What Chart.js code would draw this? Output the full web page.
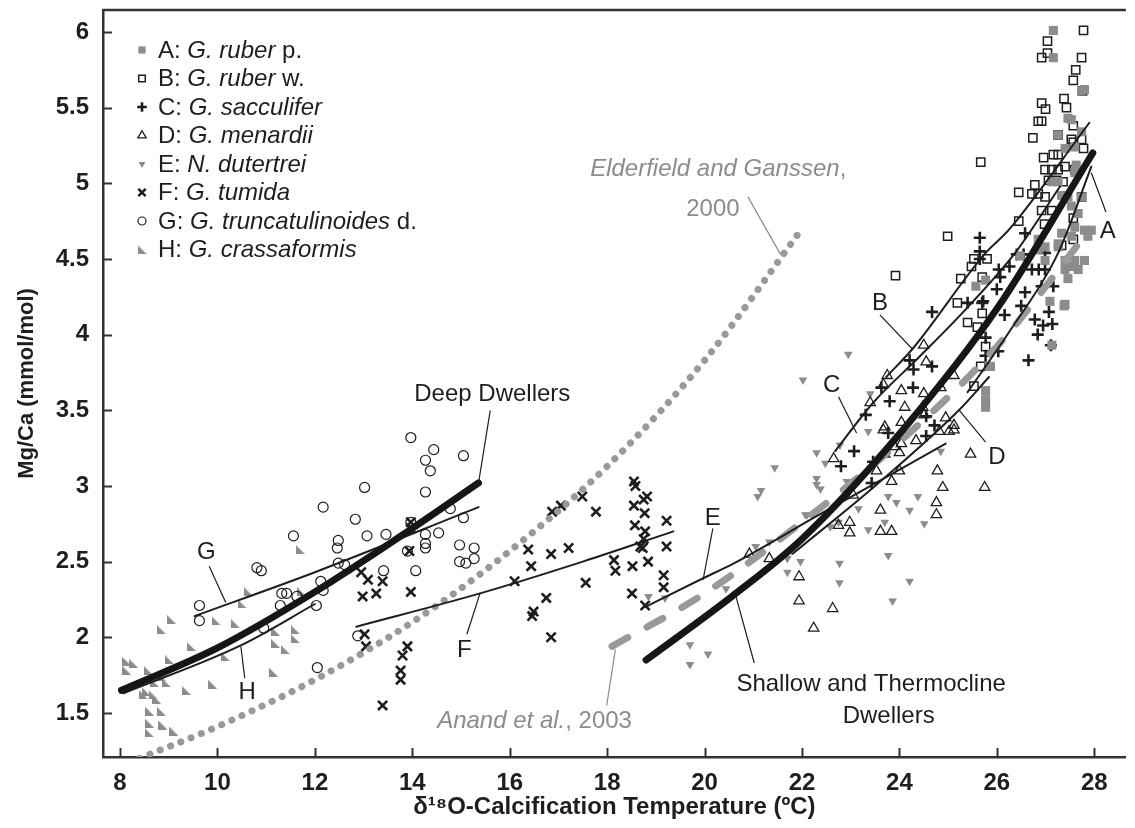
<!DOCTYPE html>
<html lang="en">
<head>
<meta charset="UTF-8">
<title>Mg/Ca vs calcification temperature</title>
<script src="https://cdn.jsdelivr.net/npm/chart.js"></script>
<style>
  html, body { margin: 0; padding: 0; background: #fff; }
  #wrap { width: 1135px; height: 828px; }
</style>
</head>
<body>
<div id="wrap"><canvas id="mgca" width="1135" height="828"></canvas></div>
<script>
// ---- data: [temperature degC, Mg/Ca mmol/mol] ----
const ruberP = [[27.16,6.01],[27.16,5.83],[27.80,5.62],[27.74,5.61],[27.46,5.43],[27.53,5.42],[27.74,5.34],[27.26,5.32],[27.60,5.24],[27.40,5.23],[27.63,5.12],[27.60,5.07],[27.13,5.01],[27.26,5.01],[27.33,4.92],[27.46,4.91],[27.74,4.91],[27.53,4.85],[27.67,4.80],[27.60,4.71],[27.80,4.69],[27.94,4.69],[27.33,4.67],[27.26,4.58],[27.40,4.49],[27.60,4.49],[27.80,4.49],[27.53,4.45],[27.40,4.43],[27.67,4.43],[27.26,4.60],[27.53,4.65],[27.87,4.65],[27.46,4.37],[27.09,4.22],[27.38,4.19],[27.13,3.93],[25.77,3.63],[25.77,3.57],[25.77,3.52],[25.87,3.79],[25.77,4.36],[25.57,4.32],[26.48,4.52],[26.85,4.63],[26.99,4.58],[26.85,4.56],[26.99,4.49],[27.40,4.20],[25.84,3.79]];
const ruberW = [[27.78,6.01],[27.04,5.94],[27.04,5.86],[26.92,5.83],[27.74,5.83],[27.62,5.75],[27.57,5.68],[27.76,5.61],[26.92,5.53],[27.00,5.49],[27.38,5.56],[27.43,5.50],[26.85,5.41],[26.92,5.41],[26.74,5.30],[27.57,5.38],[27.26,5.32],[27.53,5.29],[27.74,5.29],[27.57,5.27],[27.78,5.23],[25.67,5.14],[26.96,5.17],[27.16,5.19],[27.26,5.19],[27.40,5.11],[26.99,5.09],[27.13,5.09],[27.26,5.09],[27.60,5.09],[27.06,5.02],[27.23,5.02],[27.36,5.01],[26.78,4.99],[26.85,4.93],[26.99,4.91],[26.45,4.94],[26.72,4.93],[27.74,4.91],[26.92,4.82],[27.13,4.82],[26.98,4.73],[27.57,4.77],[26.45,4.75],[24.99,4.65],[27.57,4.63],[27.33,4.59],[25.53,4.50],[25.48,4.45],[25.80,4.50],[23.92,4.39],[25.26,4.37],[25.70,4.38],[25.19,4.21],[25.70,4.14],[25.40,4.08],[25.60,4.05],[25.77,3.92],[25.67,3.79],[25.53,3.66]];
const sacculifer = [[24.67,4.15],[25.40,4.21],[25.70,4.21],[26.50,4.19],[26.78,4.10],[26.95,4.06],[26.84,4.00],[27.14,4.07],[27.07,4.15],[27.11,3.93],[26.65,3.83],[26.03,3.89],[25.77,3.98],[25.77,3.86],[26.16,4.13],[24.21,3.83],[24.29,3.77],[24.67,3.79],[23.63,3.65],[24.28,3.65],[23.80,3.56],[23.31,3.47],[24.55,3.46],[24.72,3.40],[23.77,3.35],[24.55,3.33],[23.07,3.23],[22.80,3.13],[23.46,3.16],[23.43,3.02],[25.65,4.64],[25.65,4.55],[25.65,4.50],[26.41,4.53],[26.55,4.53],[26.58,4.67],[26.99,4.54],[26.04,4.43],[26.26,4.45],[26.07,4.38],[26.00,4.30],[26.72,4.43],[26.86,4.43],[26.99,4.43],[26.58,4.28],[26.92,4.32],[27.16,4.32],[25.72,4.22]];
const menardii = [[24.50,3.93],[24.55,3.82],[23.75,3.73],[23.67,3.67],[24.04,3.63],[24.50,3.61],[23.40,3.55],[24.11,3.52],[24.85,3.65],[25.12,3.73],[23.70,3.39],[23.67,3.37],[24.04,3.42],[24.48,3.52],[24.51,3.47],[24.95,3.45],[24.82,3.36],[25.02,3.36],[25.12,3.40],[25.12,3.37],[24.34,3.30],[24.04,3.28],[23.90,3.26],[24.00,3.22],[23.70,3.21],[22.65,3.18],[25.46,3.21],[23.53,3.10],[24.00,3.10],[23.84,3.03],[24.78,3.10],[24.89,2.99],[25.75,2.99],[23.05,2.94],[24.76,2.89],[24.76,2.81],[23.61,2.84],[22.98,2.76],[22.98,2.69],[22.75,2.74],[23.61,2.70],[23.84,2.70],[20.92,2.55],[21.33,2.52],[21.94,2.40],[21.94,2.24],[22.63,2.19],[22.24,2.06]];
const dutertrei = [[22.95,3.87],[22.02,3.70],[23.40,3.61],[23.36,3.36],[22.78,3.27],[22.30,3.22],[21.44,3.12],[22.48,3.15],[22.30,3.05],[22.30,3.01],[22.38,2.98],[21.16,2.97],[21.09,2.93],[22.92,3.03],[24.85,3.23],[23.77,2.93],[23.94,2.89],[24.38,2.93],[24.21,2.84],[23.16,2.85],[22.11,2.81],[23.70,2.76],[24.51,2.75],[22.75,2.76],[22.58,2.73],[23.36,2.71],[21.05,2.60],[21.33,2.63],[21.70,2.52],[21.97,2.50],[21.70,2.43],[22.77,2.49],[22.77,2.36],[23.77,2.54],[24.21,2.37],[23.86,2.24],[22.07,2.81],[20.44,2.32],[18.85,2.27],[19.19,2.26],[19.70,1.95],[20.07,1.89],[19.70,1.82]];
const tumida = [[18.55,3.03],[18.58,3.00],[18.82,2.93],[18.75,2.91],[17.49,2.93],[17.05,2.87],[16.87,2.83],[17.77,2.83],[18.55,2.87],[18.77,2.82],[19.22,2.77],[18.57,2.74],[18.78,2.70],[18.75,2.65],[18.68,2.60],[18.73,2.59],[19.22,2.60],[16.38,2.58],[16.85,2.55],[17.21,2.59],[16.44,2.47],[18.14,2.51],[18.17,2.44],[18.52,2.47],[18.84,2.50],[17.56,2.36],[16.10,2.37],[19.16,2.41],[19.16,2.33],[18.51,2.29],[18.78,2.21],[16.75,2.26],[16.49,2.17],[16.46,2.14],[16.85,2.00],[12.98,2.27],[13.26,2.29],[13.39,2.37],[13.09,2.38],[12.95,2.43],[13.97,2.30],[13.97,2.76],[13.94,2.57],[13.02,2.02],[13.05,1.94],[13.90,1.94],[13.80,1.88],[13.76,1.78],[13.76,1.72],[13.39,1.55],[13.97,2.72]];
const truncatulinoides = [[13.97,3.32],[14.44,3.24],[14.27,3.17],[14.37,3.10],[15.05,3.20],[13.02,2.99],[14.27,2.96],[12.17,2.86],[12.83,2.78],[14.78,2.85],[15.05,2.79],[11.56,2.67],[12.48,2.64],[12.46,2.59],[13.07,2.67],[13.46,2.68],[14.27,2.68],[14.27,2.62],[14.27,2.59],[14.54,2.69],[13.97,2.76],[13.90,2.57],[14.97,2.61],[15.27,2.59],[15.27,2.52],[14.97,2.50],[15.10,2.49],[12.48,2.49],[12.61,2.48],[13.41,2.44],[14.07,2.44],[10.81,2.46],[10.90,2.44],[12.12,2.37],[12.17,2.31],[11.32,2.29],[11.42,2.29],[11.63,2.27],[12.03,2.21],[11.29,2.21],[9.63,2.21],[9.63,2.11],[10.95,2.06],[12.88,2.01],[12.05,1.80]];
const crassaformis = [[11.70,2.58],[10.64,2.30],[10.51,2.22],[11.73,2.30],[9.05,2.12],[8.85,2.05],[9.97,2.11],[10.37,2.09],[9.46,1.94],[9.02,1.85],[10.17,1.87],[11.19,2.04],[11.19,1.96],[11.60,2.05],[11.60,1.99],[11.39,1.92],[8.14,1.84],[8.14,1.78],[8.27,1.83],[8.58,1.78],[8.85,1.74],[8.71,1.70],[8.95,1.70],[8.54,1.64],[8.68,1.62],[9.36,1.65],[9.90,1.69],[11.15,1.77],[8.48,1.62],[8.75,1.59],[8.61,1.51],[8.85,1.51],[8.61,1.43],[8.88,1.42],[8.60,1.37],[9.10,1.38]];

// fitted curves, points
const shallowFit = [[18.8,1.85],[20.6,2.28],[22.0,2.65],[24.07,3.37],[26.0,4.17],[27.97,5.20]];
const deepFit = [[8.03,1.65],[10.0,1.93],[12.0,2.30],[14.0,2.72],[15.36,3.02]];
const elderfield = [[8.4,1.20],[10,1.41],[12,1.72],[14,2.10],[16,2.57],[18,3.13],[20,3.83],[22,4.70]];
const anand = [[18.1,1.94],[20,2.29],[22,2.76],[24,3.29],[26,3.92],[27.8,4.65]];
const fitA = [[25.4,3.62],[26.28,4.03],[27.26,4.54],[27.94,5.11]];
const fitB = [[23.73,3.72],[24.28,3.91],[25.77,4.54],[26.24,4.69],[27.9,5.40]];
const fitC = [[22.68,3.23],[23.46,3.55],[24.4,3.85],[25.4,4.18],[26.4,4.55],[27.3,4.98]];
const fitD = [[21.8,2.55],[23.5,3.00],[25.22,3.50],[25.84,3.72]];
const fitE = [[18.78,2.20],[19.97,2.39],[20.61,2.49],[22.3,2.80],[24.95,3.28]];
const fitF = [[12.85,2.07],[15.39,2.29],[17.5,2.50],[19.36,2.70]];
const fitG = [[9.53,2.14],[12.0,2.43],[15.36,2.86]];
const fitH = [[8.07,1.63],[10.5,1.95],[12.0,2.22]];

const xTickVals = [8, 10, 12, 14, 16, 18, 20, 22, 24, 26, 28];
const yTickVals = [1.5, 2, 2.5, 3, 3.5, 4, 4.5, 5, 5.5, 6];

const FONT = "'Liberation Sans', Arial, Helvetica, sans-serif";
const INK = '#1e1e1e';
const GREY = '#8c8c8c';

function pts(arr) {
    return arr.map(function (p) { return { x: p[0], y: p[1] }; });
}

// little right-angled triangle used for G. crassaformis
function rightTri(size, color) {
    const c = document.createElement('canvas');
    c.width = size; c.height = size;
    const g = c.getContext('2d');
    g.fillStyle = color;
    g.beginPath();
    g.moveTo(0, 0);
    g.lineTo(0, size);
    g.lineTo(size, size);
    g.closePath();
    g.fill();
    return c;
}
const triH = rightTri(9, GREY);

const markers = {
    A: { pointStyle: 'rect', radius: 6.4, rotation: 0, fill: GREY, stroke: GREY, bw: 0 },
    B: { pointStyle: 'rect', radius: 5.8, rotation: 0, fill: 'rgba(0,0,0,0)', stroke: INK, bw: 1.5 },
    C: { pointStyle: 'cross', radius: 6, rotation: 0, fill: INK, stroke: INK, bw: 2.6 },
    D: { pointStyle: 'triangle', radius: 6, rotation: 0, fill: 'rgba(0,0,0,0)', stroke: INK, bw: 1.3 },
    E: { pointStyle: 'triangle', radius: 5, rotation: 180, fill: GREY, stroke: GREY, bw: 0 },
    F: { pointStyle: 'crossRot', radius: 6.5, rotation: 0, fill: INK, stroke: INK, bw: 2.6 },
    G: { pointStyle: 'circle', radius: 5, rotation: 0, fill: 'rgba(0,0,0,0)', stroke: INK, bw: 1.2 },
    H: { pointStyle: triH, radius: 5, rotation: 0, fill: GREY, stroke: GREY, bw: 0 }
};

function scatterSet(key, arr) {
    const m = markers[key];
    return {
        label: key,
        data: pts(arr),
        showLine: false,
        order: 3,
        pointStyle: m.pointStyle,
        pointRadius: m.radius,
        pointRotation: m.rotation,
        pointBackgroundColor: m.fill,
        pointBorderColor: m.stroke,
        pointBorderWidth: m.bw
    };
}

function curveSet(label, arr, color, width, dash, order) {
    return {
        label: label,
        data: pts(arr),
        showLine: true,
        pointRadius: 0,
        borderColor: color,
        borderWidth: width,
        borderDash: dash || [],
        borderCapStyle: 'round',
        borderJoinStyle: 'round',
        cubicInterpolationMode: 'monotone',
        fill: false,
        order: order
    };
}

// draw a string made of normal / italic pieces
function drawRuns(ctx, x, y, parts, size, color, align) {
    const widths = parts.map(function (p) {
        ctx.font = (p[1] ? 'italic ' : '') + size + 'px ' + FONT;
        return ctx.measureText(p[0]).width;
    });
    const total = widths.reduce(function (a, b) { return a + b; }, 0);
    let cx = x;
    if (align === 'right') cx = x - total;
    if (align === 'center') cx = x - total / 2;
    ctx.fillStyle = color;
    ctx.textAlign = 'left';
    parts.forEach(function (p, i) {
        ctx.font = (p[1] ? 'italic ' : '') + size + 'px ' + FONT;
        ctx.fillText(p[0], cx, y);
        cx += widths[i];
    });
}

const legendRows = [
    ['A', [['A: ', 0], ['G. ruber', 1], [' p.', 0]]],
    ['B', [['B: ', 0], ['G. ruber', 1], [' w.', 0]]],
    ['C', [['C: ', 0], ['G. sacculifer', 1]]],
    ['D', [['D: ', 0], ['G. menardii', 1]]],
    ['E', [['E: ', 0], ['N. dutertrei', 1]]],
    ['F', [['F: ', 0], ['G. tumida', 1]]],
    ['G', [['G: ', 0], ['G. truncatulinoides', 1], [' d.', 0]]],
    ['H', [['H: ', 0], ['G. crassaformis', 1]]]
];

// labels: text pieces, anchor (data units), alignment, colour, leader line from/to (data units)
const callouts = [
    { parts: [['Deep Dwellers', 0]], at: [14.04, 3.56], align: 'left', color: INK, lead: [[15.60, 3.50], [15.36, 3.02]] },
    { parts: [['G', 0]], at: [9.77, 2.52], align: 'center', color: INK, lead: [[9.83, 2.47], [10.17, 2.23]] },
    { parts: [['H', 0]], at: [10.61, 1.59], align: 'center', color: INK, lead: [[10.48, 1.94], [10.56, 1.73]] },
    { parts: [['F', 0]], at: [15.07, 1.87], align: 'center', color: INK, lead: [[15.12, 2.02], [15.39, 2.29]] },
    { parts: [['E', 0]], at: [20.17, 2.74], align: 'center', color: INK, lead: [[20.17, 2.72], [19.97, 2.38]] },
    { parts: [['Shallow and Thermocline', 0]], at: [23.42, 1.647], align: 'center', color: INK, lead: [[21.02, 1.83], [20.61, 2.31]] },
    { parts: [['Dwellers', 0]], at: [23.78, 1.432], align: 'center', color: INK, lead: null },
    { parts: [['A', 0]], at: [28.28, 4.64], align: 'center', color: INK, lead: [[28.24, 4.81], [27.94, 5.07]] },
    { parts: [['B', 0]], at: [23.60, 4.16], align: 'center', color: INK, lead: [[23.60, 4.13], [24.28, 3.90]] },
    { parts: [['C', 0]], at: [22.61, 3.62], align: 'center', color: INK, lead: [[22.75, 3.59], [23.12, 3.35]] },
    { parts: [['D', 0]], at: [26.0, 3.145], align: 'center', color: INK, lead: [[25.77, 3.29], [25.23, 3.50]] },
    { parts: [['Elderfield and Ganssen', 1], [',', 0]], at: [22.91, 5.045], align: 'right', color: GREY, lead: [[20.89, 4.91], [21.56, 4.53]] },
    { parts: [['2000', 0]], at: [20.72, 4.785], align: 'right', color: GREY, lead: null },
    { parts: [['Anand ', 1], ['et al.', 1], [', 2003', 0]], at: [14.51, 1.40], align: 'left', color: GREY, lead: [[18.17, 1.92], [17.99, 1.55]] }
];

const decorations = {
    id: 'decorations',
    afterDatasetsDraw: function (chart) {
        const ctx = chart.ctx;
        const xs = chart.scales.x, ys = chart.scales.y;
        const area = chart.chartArea;
        ctx.save();

        // frame top + inward tick marks
        ctx.strokeStyle = '#333';
        ctx.lineWidth = 2.5;
        ctx.beginPath();
        ctx.moveTo(area.left, area.top);
        ctx.lineTo(area.right, area.top);
        ctx.stroke();
        ctx.lineWidth = 2;
        ctx.beginPath();
        xTickVals.forEach(function (v) {
            const p = Math.round(xs.getPixelForValue(v)) + 0.5;
            ctx.moveTo(p, area.bottom);
            ctx.lineTo(p, area.bottom - 9);
        });
        yTickVals.forEach(function (v) {
            const p = Math.round(ys.getPixelForValue(v)) + 0.5;
            ctx.moveTo(area.left, p);
            ctx.lineTo(area.left + 9, p);
        });
        ctx.stroke();

        // callout labels and their leader lines
        ctx.textBaseline = 'alphabetic';
        callouts.forEach(function (c) {
            const x = xs.getPixelForValue(c.at[0]);
            const y = ys.getPixelForValue(c.at[1]);
            drawRuns(ctx, x, y, c.parts, 24, c.color, c.align);
            if (c.lead) {
                ctx.strokeStyle = c.color === GREY ? GREY : INK;
                ctx.lineWidth = 1.2;
                ctx.beginPath();
                ctx.moveTo(xs.getPixelForValue(c.lead[0][0]), ys.getPixelForValue(c.lead[0][1]));
                ctx.lineTo(xs.getPixelForValue(c.lead[1][0]), ys.getPixelForValue(c.lead[1][1]));
                ctx.stroke();
            }
        });

        // legend
        ctx.textBaseline = 'middle';
        legendRows.forEach(function (row, i) {
            const m = markers[row[0]];
            const cy = 50 + i * 28.5;
            ctx.fillStyle = m.fill;
            ctx.strokeStyle = m.stroke;
            ctx.lineWidth = m.bw;
            Chart.helpers.drawPoint(ctx, {
                pointStyle: m.pointStyle,
                radius: m.radius * 0.8,
                rotation: m.rotation,
                borderWidth: m.bw
            }, 142, cy);
            drawRuns(ctx, 158, cy + 1, row[1], 24, INK, 'left');
        });
        ctx.restore();
    }
};

const chart = new Chart(document.getElementById('mgca'), {
    type: 'scatter',
    data: {
        datasets: [
            curveSet('Shallow and Thermocline Dwellers', shallowFit, '#161616', 7, null, 0),
            curveSet('Deep Dwellers', deepFit, '#161616', 7, null, 0),
            curveSet('A fit', fitA, INK, 2, null, 1),
            curveSet('B fit', fitB, INK, 2, null, 1),
            curveSet('C fit', fitC, INK, 2, null, 1),
            curveSet('D fit', fitD, INK, 2, null, 1),
            curveSet('E fit', fitE, INK, 2, null, 1),
            curveSet('F fit', fitF, INK, 2, null, 1),
            curveSet('G fit', fitG, INK, 2, null, 1),
            curveSet('H fit', fitH, INK, 2, null, 1),
            curveSet('Elderfield and Ganssen, 2000', elderfield, '#999999', 7, [0.1, 11], 2),
            curveSet('Anand et al., 2003', anand, '#999999', 7, [18, 22], 2),
            scatterSet('A', ruberP),
            scatterSet('B', ruberW),
            scatterSet('C', sacculifer),
            scatterSet('D', menardii),
            scatterSet('E', dutertrei),
            scatterSet('F', tumida),
            scatterSet('G', truncatulinoides),
            scatterSet('H', crassaformis)
        ]
    },
    options: {
        responsive: false,
        devicePixelRatio: 1,
        animation: false,
        events: [],
        layout: { padding: { top: 10, right: 0, bottom: 0, left: 0 } },
        plugins: {
            legend: { display: false },
            tooltip: { enabled: false }
        },
        scales: {
            x: {
                type: 'linear',
                min: 7.65,
                max: 28.65,
                afterBuildTicks: function (s) { s.ticks = xTickVals.map(function (v) { return { value: v }; }); },
                afterFit: function (s) { s.height = 71; s.paddingLeft = 0; s.paddingRight = 0; },
                grid: { display: false, drawTicks: false },
                border: { display: true, color: '#333', width: 2.5 },
                ticks: {
                    padding: 12,
                    color: INK,
                    font: { family: FONT, size: 24, weight: 'bold' },
                    callback: function (v) { return String(v); }
                },
                title: {
                    display: true,
                    text: 'δ¹⁸O-Calcification Temperature (ºC)',
                    color: INK,
                    font: { family: FONT, size: 24, weight: 'bold' },
                    padding: { top: 0, bottom: 6 }
                }
            },
            y: {
                type: 'linear',
                min: 1.209,
                max: 6.145,
                afterBuildTicks: function (s) { s.ticks = yTickVals.map(function (v) { return { value: v }; }); },
                afterFit: function (s) { s.width = 103; s.paddingTop = 0; s.paddingBottom = 0; },
                grid: { display: false, drawTicks: false },
                border: { display: true, color: '#333', width: 2.5 },
                ticks: {
                    padding: 14,
                    color: INK,
                    font: { family: FONT, size: 24, weight: 'bold' },
                    callback: function (v) { return String(v); }
                },
                title: {
                    display: true,
                    text: 'Mg/Ca (mmol/mol)',
                    color: INK,
                    font: { family: FONT, size: 22, weight: 'bold' },
                    padding: { top: 14, bottom: 0 }
                }
            }
        }
    },
    plugins: [decorations]
});
</script>
</body>
</html>
